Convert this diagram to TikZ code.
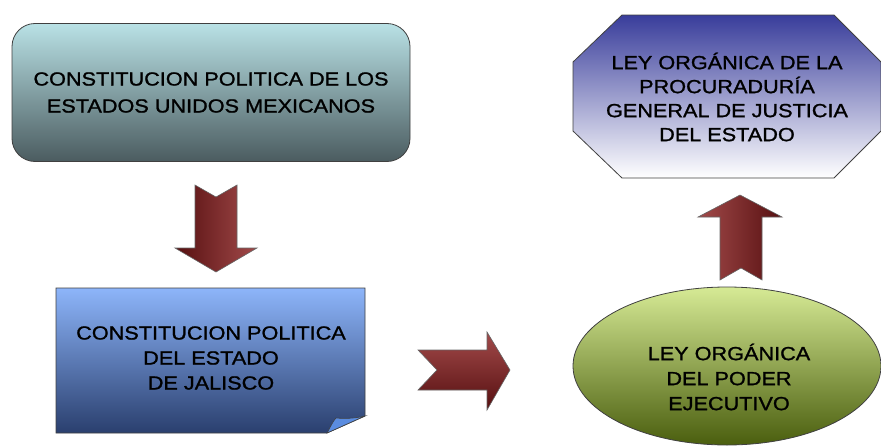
\documentclass[tikz,border=0pt]{standalone}
\usepackage{fontspec}
\setmainfont{Liberation Sans}[FakeStretch=1.14, FakeBold=1.2]
\definecolor{tealtop}{HTML}{B9E1E5}
\definecolor{tealbot}{HTML}{4B5C60}
\definecolor{bluetop}{HTML}{8DB5FA}
\definecolor{bluebot}{HTML}{2A3F6E}
\definecolor{flap}{HTML}{5A8CE0}
\definecolor{indtop}{HTML}{393D9B}
\definecolor{greentop}{HTML}{D6EA95}
\definecolor{greenbot}{HTML}{4A5E0E}
\definecolor{arrdark}{HTML}{560F10}
\definecolor{arrlight}{HTML}{A24A4A}
\definecolor{edge}{HTML}{404040}
\tikzset{
  label/.style={align=center, text=black, font=\fontsize{19}{25}\selectfont},
  shapeedge/.style={draw=edge, line width=0.8pt},
  blockarrow/.style={draw=edge!80, line width=0.6pt},
}
\begin{document}
\begin{tikzpicture}[x=1pt,y=-1pt]
\useasboundingbox (0,0) rectangle (881,447);
\begin{scope}
\clip (0,0) rectangle (881,447);
% box 1
\node[shapeedge, rounded corners=23pt, minimum width=398pt, minimum height=138pt,
      top color=tealtop, bottom color=tealbot, label, font=\fontsize{19}{27}\selectfont]
      (cpeum) at (211,92.5) {CONSTITUCION POLITICA DE LOS\\ESTADOS UNIDOS MEXICANOS};
% down arrow
\shade[blockarrow, left color=arrdark, right color=arrlight]
  (195,185) -- (216,197) -- (237,185) -- (237,248) -- (257,248) -- (216,272)
  -- (175,248) -- (195,248) -- cycle;
% Jalisco box with folded corner
\shade[shapeedge, top color=bluetop, bottom color=bluebot]
  (56,288) -- (365,288) -- (365,416) -- (327,433) -- (56,433) -- cycle;
\fill[flap, draw=edge, line width=0.6pt]
  (327,433) .. controls (331,426) and (333,421) .. (336,418)
  .. controls (348,419) and (356,418) .. (365,416) -- cycle;
\node[label] (jal) at (211,358) {CONSTITUCION POLITICA\\DEL ESTADO\\DE JALISCO};
% right arrow
\shade[blockarrow, top color=arrlight, bottom color=arrdark]
  (418,350) -- (487,350) -- (487,332) -- (510,370) -- (487,410) -- (487,390)
  -- (418,390) -- (437,370) -- cycle;
% ellipse
\shade[shapeedge, top color=greentop, bottom color=greenbot]
  (727,366) ellipse [x radius=154pt, y radius=79pt];
\node[label] (lope) at (729,377) {LEY ORGÁNICA\\DEL PODER\\EJECUTIVO};
% up arrow
\shade[blockarrow, left color=arrlight, right color=arrdark]
  (740,195) -- (782,217) -- (762,217) -- (762,280) -- (741,268) -- (720,280)
  -- (720,217) -- (698,217) -- cycle;
% octagon
\shade[shapeedge, top color=indtop, bottom color=white]
  (622,15) -- (834,15) -- (881,62) -- (881,131) -- (834,178) -- (622,178)
  -- (573,131) -- (573,62) -- cycle;
\node[label, font=\fontsize{19}{24}\selectfont] (lopg) at (727,97)
  {LEY ORGÁNICA DE LA\\PROCURADURÍA\\GENERAL DE JUSTICIA\\DEL ESTADO};
\end{scope}
\end{tikzpicture}
\end{document}
